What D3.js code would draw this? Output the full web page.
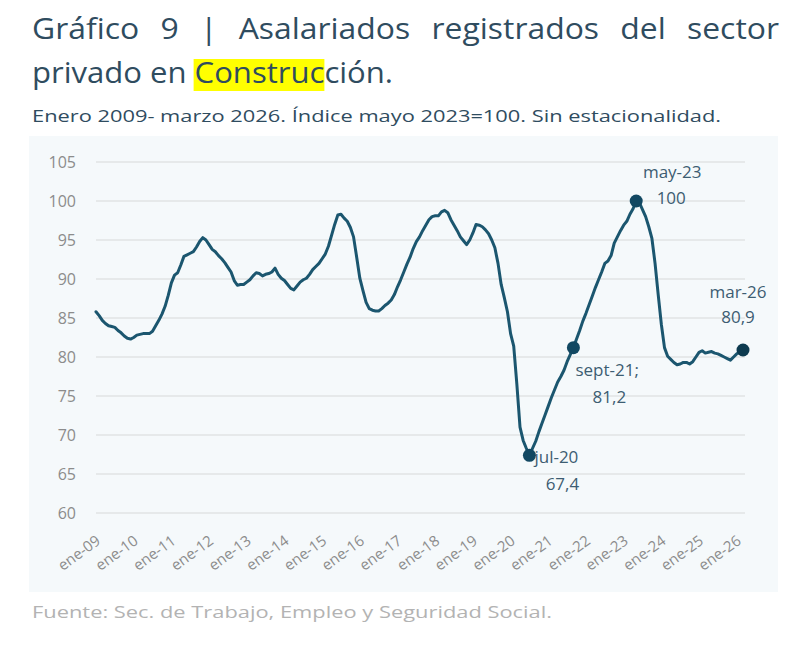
<!DOCTYPE html>
<html>
<head>
<meta charset="utf-8">
<script src="https://cdn.jsdelivr.net/npm/d3@7"></script>
<style>
  html, body { margin: 0; padding: 0; background: #ffffff; }
  svg { display: block; }
</style>
</head>
<body>
<svg id="chart" width="800" height="645"></svg>
<script>
// ---------- DATA ----------
// Índice mayo 2023 = 100, serie mensual ene-2009 a mar-2026
const values2009 = [85.8, 85.3, 84.7, 84.3, 84.0, 83.9, 83.8, 83.4, 83.1, 82.7, 82.4, 82.3];
const values2010 = [82.5, 82.8, 82.9, 83.0, 83.0, 83.0, 83.3, 84.0, 84.7, 85.5, 86.5, 87.9];
const values2011 = [89.5, 90.5, 90.8, 91.8, 92.9, 93.1, 93.3, 93.5, 94.1, 94.8, 95.3, 95.0];
const values2012 = [94.4, 93.8, 93.5, 93.0, 92.6, 92.1, 91.5, 90.9, 89.8, 89.2, 89.3, 89.3];
const values2013 = [89.6, 89.9, 90.4, 90.8, 90.7, 90.4, 90.6, 90.7, 90.9, 91.4, 90.6, 90.1];
const values2014 = [89.8, 89.3, 88.8, 88.6, 89.1, 89.6, 89.9, 90.1, 90.6, 91.2, 91.6, 92.0];
const values2015 = [92.6, 93.2, 94.2, 95.6, 97.0, 98.2, 98.3, 97.8, 97.4, 96.6, 95.4, 92.8];
const values2016 = [90.1, 88.5, 87.0, 86.2, 86.0, 85.9, 85.9, 86.2, 86.6, 86.9, 87.3, 88.0];
const values2017 = [89.0, 89.9, 90.9, 91.9, 92.8, 93.9, 94.8, 95.4, 96.2, 96.9, 97.6, 98.0];
const values2018 = [98.1, 98.1, 98.6, 98.8, 98.5, 97.6, 96.9, 96.2, 95.4, 94.9, 94.4, 95.0];
const values2019 = [95.9, 97.0, 96.9, 96.7, 96.3, 95.8, 95.0, 94.0, 92.0, 89.3, 87.6, 85.8];
const values2020 = [83.0, 81.4, 76.5, 71.0, 69.3, 68.3, 67.4, 68.3, 69.2, 70.4, 71.5, 72.6];
const values2021 = [73.7, 74.8, 75.8, 76.8, 77.5, 78.3, 79.4, 80.3, 81.2, 82.3, 83.4, 84.6];
const values2022 = [85.6, 86.7, 87.8, 88.9, 89.9, 90.9, 92.0, 92.3, 93.0, 94.6, 95.4, 96.2];
const values2023 = [96.9, 97.4, 98.3, 99.0, 100.0, 99.8, 98.9, 98.0, 96.7, 95.2, 92.0, 88.0];
const values2024 = [84.2, 81.2, 80.1, 79.7, 79.3, 79.0, 79.1, 79.3, 79.3, 79.1, 79.4, 80.0];
const values2025 = [80.6, 80.8, 80.5, 80.6, 80.7, 80.5, 80.4, 80.2, 80.0, 79.8, 79.6, 80.0];
const values2026 = [80.4, 80.7, 80.9];

const xTickLabels = ["ene-09","ene-10","ene-11","ene-12","ene-13","ene-14","ene-15","ene-16","ene-17",
                     "ene-18","ene-19","ene-20","ene-21","ene-22","ene-23","ene-24","ene-25","ene-26"];
const yTicks = [60, 65, 70, 75, 80, 85, 90, 95, 100, 105];

// highlighted points: month index (0 = ene-09), label, value text
const markIndex  = [138, 152, 172, 206];
const markLabel  = ["jul-20", "sept-21;", "may-23", "mar-26"];
const markValue  = ["67,4", "81,2", "100", "80,9"];

const titleLine1 = ["Gráfico", "9", "|", "Asalariados", "registrados", "del", "sector"];
const titleLine2a = "privado en ";
const titleLine2b = "Construc";
const titleLine2c = "ción.";
const subtitle = "Enero 2009- marzo 2026. Índice mayo 2023=100. Sin estacionalidad.";
const source = "Fuente: Sec. de Trabajo, Empleo y Seguridad Social.";

// ---------- BUILD ----------
const series = [].concat(values2009, values2010, values2011, values2012, values2013, values2014,
  values2015, values2016, values2017, values2018, values2019, values2020, values2021, values2022,
  values2023, values2024, values2025, values2026).map((v, i) => ({ i, v }));

const FONT = "'Open Sans', 'Noto Sans', sans-serif";
const TITLE_COLOR = "#2f4c5f";
const LINE_COLOR = "#1b566f";
const DOT_COLOR = "#124862";
const ANN_COLOR = "#3d5d72";

const svg = d3.select("#chart");
const bgLayer = svg.append("g");
const fgLayer = svg.append("g");

// Title line 1, justified between 32 and 779
const words = fgLayer.append("g").selectAll("text").data(titleLine1).join("text")
  .attr("y", 39)
  .attr("font-family", FONT)
  .attr("font-size", 29)
  .attr("fill", TITLE_COLOR)
  .attr("transform-origin", "0 0")
  .text(d => d);
const widths = [];
words.each(function() { widths.push(this.getComputedTextLength() * 1.1); });
words.attr("textLength", (d, k) => widths[k]).attr("lengthAdjust", "spacingAndGlyphs");
const left = 32, right = 779;
const gap = (right - left - d3.sum(widths)) / (titleLine1.length - 1);
let cx = left;
words.attr("x", (d, k) => { const xx = cx; cx += widths[k] + gap; return xx; });

// Title line 2 with highlighted segment
const t2 = fgLayer.append("text")
  .attr("x", 32).attr("y", 83)
  .attr("font-family", FONT)
  .attr("font-size", 29)
  .attr("fill", TITLE_COLOR)
  .attr("textLength", 361)
  .attr("lengthAdjust", "spacingAndGlyphs");
t2.append("tspan").text(titleLine2a);
t2.append("tspan").text(titleLine2b);
t2.append("tspan").text(titleLine2c);
const tnode = t2.node();
const startPos = tnode.getStartPositionOfChar(titleLine2a.length);
const endPos = tnode.getEndPositionOfChar(titleLine2a.length + titleLine2b.length - 1);
bgLayer.append("rect")
  .attr("x", startPos.x - 1)
  .attr("y", 59)
  .attr("width", endPos.x - startPos.x + 1)
  .attr("height", 32)
  .attr("fill", "#ffff00");

// Subtitle
fgLayer.append("text")
  .attr("x", 32).attr("y", 122)
  .attr("font-family", FONT)
  .attr("font-size", 17)
  .attr("fill", TITLE_COLOR)
  .attr("textLength", 689)
  .attr("lengthAdjust", "spacingAndGlyphs")
  .text(subtitle);

// Panel background
bgLayer.append("rect")
  .attr("x", 29).attr("y", 136)
  .attr("width", 749).attr("height", 456)
  .attr("fill", "#f5f9fb");

// Scales
const x = d3.scaleLinear().domain([0, 206]).range([96, 743]);
const y = d3.scaleLinear().domain([60, 105]).range([513, 162]);

// Gridlines
fgLayer.append("g").selectAll("line").data(yTicks).join("line")
  .attr("x1", 96).attr("x2", 745)
  .attr("y1", d => y(d)).attr("y2", d => y(d))
  .attr("stroke", "#e1e3e4")
  .attr("stroke-width", 1.5);

// Y axis labels
const yAxis = d3.axisLeft(y).tickValues(yTicks).tickSize(0).tickPadding(0).tickFormat(d3.format("d"));
const gy = fgLayer.append("g").attr("transform", "translate(76,0)").call(yAxis);
gy.select(".domain").remove();
gy.selectAll("text")
  .attr("font-family", FONT)
  .attr("font-size", 16)
  .attr("fill", "#8c8c8c");

// X axis labels
const xTickIdx = xTickLabels.map((d, k) => k * 12);
const xAxis = d3.axisBottom(x).tickValues(xTickIdx).tickSize(0).tickFormat((d, k) => xTickLabels[k]);
const gx = fgLayer.append("g").attr("transform", "translate(0,513)").call(xAxis);
gx.select(".domain").remove();
gx.selectAll("text")
  .attr("font-family", FONT)
  .attr("font-size", 15)
  .attr("fill", "#8c8c8c")
  .attr("text-anchor", "end")
  .attr("dy", null)
  .attr("y", null)
  .attr("transform", "translate(5,30) rotate(-36)");

// Line
const line = d3.line().x(d => x(d.i)).y(d => y(d.v)).curve(d3.curveLinear);
fgLayer.append("path")
  .datum(series)
  .attr("d", line)
  .attr("fill", "none")
  .attr("stroke", LINE_COLOR)
  .attr("stroke-width", 3)
  .attr("stroke-linejoin", "round")
  .attr("stroke-linecap", "round");

// Marked points
const marks = markIndex.map((idx, k) => ({ idx, v: series[idx].v, label: markLabel[k], value: markValue[k] }));
fgLayer.append("g").selectAll("circle").data(marks).join("circle")
  .attr("cx", d => x(d.idx))
  .attr("cy", d => y(d.v))
  .attr("r", 6.5)
  .attr("fill", (d, k) => k === 3 ? "#0d3a4f" : DOT_COLOR);

// Annotation text offsets (layout)
const annOffsets = [
  { l: [5, 8, "start"],  v: [33, 35, "middle"] },
  { l: [2, 28, "start"], v: [36, 55, "middle"] },
  { l: [36, -23, "middle"], v: [35, 3, "middle"] },
  { l: [-5, -52, "middle"], v: [-5, -27, "middle"] }
];
const ann = fgLayer.append("g");
marks.forEach((d, k) => {
  const px = x(d.idx), py = y(d.v), o = annOffsets[k];
  ann.append("text")
    .attr("x", px + o.l[0]).attr("y", py + o.l[1])
    .attr("text-anchor", o.l[2])
    .attr("font-family", FONT).attr("font-size", 17)
    .attr("fill", ANN_COLOR)
    .text(d.label);
  ann.append("text")
    .attr("x", px + o.v[0]).attr("y", py + o.v[1])
    .attr("text-anchor", o.v[2])
    .attr("font-family", FONT).attr("font-size", 17)
    .attr("fill", ANN_COLOR)
    .text(d.value);
});

// Source
fgLayer.append("text")
  .attr("x", 32).attr("y", 618)
  .attr("font-family", FONT)
  .attr("font-size", 17)
  .attr("fill", "#b3b3b3")
  .attr("textLength", 520)
  .attr("lengthAdjust", "spacingAndGlyphs")
  .text(source);
</script>
</body>
</html>
